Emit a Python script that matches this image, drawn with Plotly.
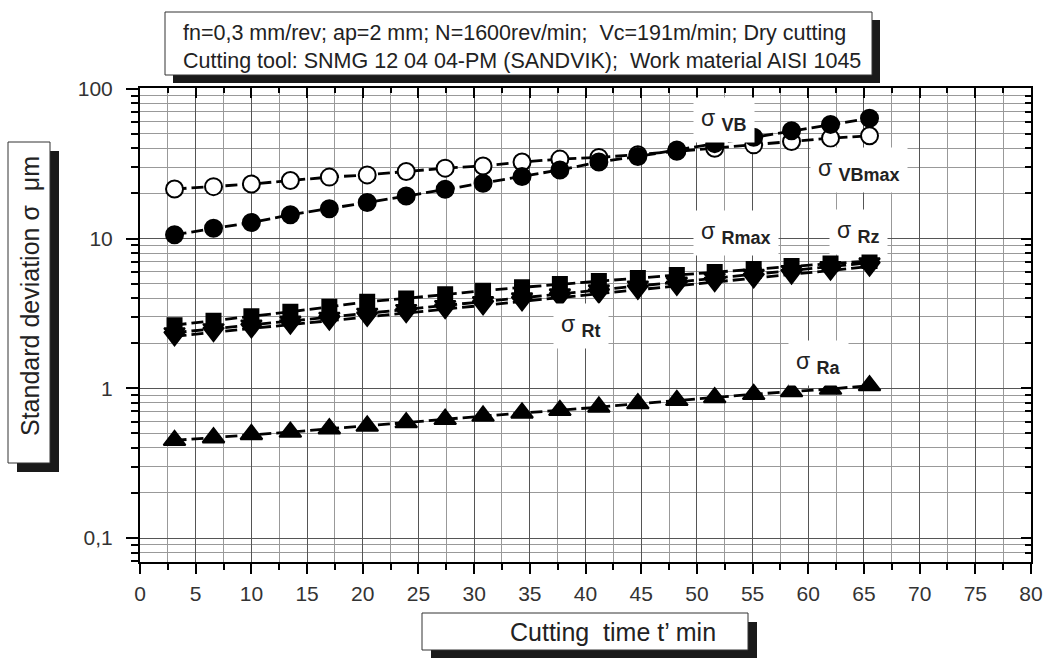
import math
import plotly.graph_objects as go

# ---------------- data ----------------
t = [3.1, 6.6, 10.0, 13.5, 17.0, 20.4, 23.9, 27.4, 30.8, 34.3, 37.7,
     41.2, 44.7, 48.2, 51.6, 55.1, 58.5, 62.0, 65.5]
vb = [10.6, 11.7, 12.8, 14.4, 15.8, 17.4, 19.2, 21.3, 23.4, 25.9, 28.7,
      32.4, 35.3, 39.0, 43.0, 47.5, 52.5, 57.8, 63.5]
vbmax = [21.4, 22.2, 23.1, 24.4, 25.7, 26.6, 28.0, 29.5, 30.5, 32.4, 33.9,
         34.8, 36.3, 38.2, 40.1, 42.2, 44.4, 46.8, 48.5]
rmax = [2.64, 2.82, 3.03, 3.24, 3.50, 3.78, 3.98, 4.24, 4.48, 4.72, 4.96,
        5.20, 5.44, 5.70, 5.97, 6.25, 6.55, 6.80, 7.07]
rz = [2.35, 2.50, 2.65, 2.81, 2.98, 3.17, 3.36, 3.57, 3.79, 4.02, 4.27,
      4.54, 4.82, 5.12, 5.43, 5.77, 6.12, 6.50, 6.88]
rt = [2.22, 2.37, 2.51, 2.66, 2.83, 3.00, 3.18, 3.38, 3.58, 3.80, 4.03,
      4.28, 4.54, 4.82, 5.11, 5.42, 5.75, 6.11, 6.50]
ra = [0.449, 0.468, 0.492, 0.510, 0.537, 0.560, 0.590, 0.621, 0.653, 0.684, 0.713,
      0.750, 0.790, 0.831, 0.867, 0.912, 0.951, 0.989, 1.042]

x_ticks = list(range(0, 81, 5))
x_minor = [2.5 + 5 * i for i in range(16)]
y_tickvals = [0.1, 1, 10, 100]
y_ticktext = ["0,1", "1", "10", "100"]
y_minor = [m * d for d in (0.01, 0.1, 1, 10) for m in range(2, 10)]

title_lines = ["fn=0,3 mm/rev; ap=2 mm; N=1600rev/min;  Vc=191m/min; Dry cutting",
               "Cutting tool: SNMG 12 04 04-PM (SANDVIK);  Work material AISI 1045"]
x_label = "Cutting  time t\u2019 min"
y_label = "Standard deviation \u03c3  \u03bcm"

labels = [("VB", 52.4, 62), ("VBmax", 64.6, 28.8), ("Rmax", 53.5, 10.9),
          ("Rz", 64.5, 11.0), ("Rt", 39.6, 2.6), ("Ra", 60.9, 1.47)]

# ---------------- figure ----------------
W, H = 1043, 658
L, R, T, B = 140, 12, 88, 96
pw, ph = W - L - R, H - T - B
FONT = "Liberation Sans, Arial, sans-serif"


def px(xp):
    return (xp - L) / pw


def py(yp):
    return (H - B - yp) / ph


fig = go.Figure()
line = dict(color="black", width=2.8, dash="12px,5px")


def add(y, symbol, size, fill="black", name=""):
    fig.add_trace(go.Scatter(
        x=t, y=y, mode="lines+markers", name=name, line=line,
        marker=dict(symbol=symbol, size=size, color=fill,
                    line=dict(color="black", width=2)),
        showlegend=False))


add(ra, "triangle-up", 19, name="Ra")
add(rt, "triangle-down", 18, name="Rt")
add(rz, "triangle-down", 18, name="Rz")
add(rmax, "square", 14, name="Rmax")
add(vbmax, "circle", 17, fill="white", name="VBmax")
add(vb, "circle", 17, name="VB")

# invisible helper for mirrored (inside) ticks
fig.add_trace(go.Scatter(x=[0], y=[1], xaxis="x2", yaxis="y2", mode="markers",
                         marker=dict(opacity=0), showlegend=False, hoverinfo="skip"))

yr = [-1.16, 2.005]
fig.update_layout(
    width=W, height=H, margin=dict(l=L, r=R, t=T, b=B, autoexpand=False),
    paper_bgcolor="white", plot_bgcolor="white",
    font=dict(family=FONT, color="#222"),
    xaxis=dict(range=[0, 80], tickvals=x_ticks, ticks="outside", ticklen=10,
               tickwidth=1.5, tickcolor="black", tickfont=dict(size=21, color="#333"),
               showline=True, linecolor="black", linewidth=2, automargin=False,
               ticklabelstandoff=2,
               showgrid=True, gridcolor="#555", gridwidth=1,
               minor=dict(tickvals=x_minor, showgrid=True, gridcolor="#999", gridwidth=1,
                          ticks="outside", ticklen=6, tickcolor="black"),
               zeroline=False),
    yaxis=dict(type="log", range=yr, tickvals=y_tickvals, ticktext=y_ticktext,
               ticks="outside", ticklen=12, tickwidth=1.5, tickcolor="black",
               tickfont=dict(size=21, color="#333"), automargin=False,
               ticklabelstandoff=9,
               showline=True, linecolor="black", linewidth=2,
               showgrid=True, gridcolor="#555", gridwidth=1,
               minor=dict(tickvals=y_minor, showgrid=True, gridcolor="#999", gridwidth=1,
                          ticks="outside", ticklen=7, tickcolor="black"),
               zeroline=False),
    xaxis2=dict(range=[0, 80], overlaying="x", side="top", tickvals=x_ticks,
                ticks="inside", ticklen=10, tickwidth=1.5, tickcolor="black",
                showticklabels=False,
                showline=True, linecolor="black", linewidth=2, showgrid=False,
                automargin=False,
                minor=dict(tickvals=x_minor, ticks="inside", ticklen=5,
                           tickcolor="black", showgrid=False),
                zeroline=False),
    yaxis2=dict(type="log", range=yr, overlaying="y", side="right",
                tickvals=y_tickvals, ticks="inside", ticklen=10, tickwidth=1.5,
                tickcolor="black",
                showticklabels=False, showline=True, linecolor="black", linewidth=2,
                showgrid=False, automargin=False,
                minor=dict(tickvals=y_minor, ticks="inside", ticklen=6,
                           tickcolor="black", showgrid=False),
                zeroline=False),
)

shapes = []
annotations = []


def boxed(x0, y0, x1, y1, off):
    shapes.append(dict(type="rect", xref="paper", yref="paper",
                       x0=px(x0 + off), x1=px(x1 + off), y0=py(y0 + off), y1=py(y1 + off),
                       fillcolor="#1a1a1a", line=dict(width=0), layer="above"))
    shapes.append(dict(type="rect", xref="paper", yref="paper",
                       x0=px(x0), x1=px(x1), y0=py(y0), y1=py(y1),
                       fillcolor="white", line=dict(color="#333", width=1), layer="above"))


boxed(165, 12, 872, 75, 8)
boxed(8, 142, 50, 463, 9)
boxed(422, 613, 748, 650, 9)

annotations.append(dict(xref="paper", yref="paper", x=px(181), y=py(33), xanchor="left",
                        yanchor="middle", text=title_lines[0], showarrow=False,
                        font=dict(size=21.5, color="#222")))
annotations.append(dict(xref="paper", yref="paper", x=px(181), y=py(61), xanchor="left",
                        yanchor="middle", text=title_lines[1], showarrow=False,
                        font=dict(size=21.5, color="#222")))
annotations.append(dict(xref="paper", yref="paper", x=px(30), y=py(296), textangle=-90,
                        xanchor="center", yanchor="middle", text=y_label, showarrow=False,
                        font=dict(size=25, color="#222")))
annotations.append(dict(xref="paper", yref="paper", x=px(613), y=py(632),
                        xanchor="center", yanchor="middle", text=x_label, showarrow=False,
                        font=dict(size=25, color="#222")))

for name, lx, ly in labels:
    annotations.append(dict(x=lx, y=math.log10(ly), xref="x", yref="y",
                            text="\u03c3 <sub><span style='font-size:18px'><b>%s</b></span></sub>" % name,
                            showarrow=False, bgcolor="white", borderpad=7,
                            font=dict(size=23, color="#222")))

fig.update_layout(shapes=shapes, annotations=annotations)
fig.write_html("out.html")
